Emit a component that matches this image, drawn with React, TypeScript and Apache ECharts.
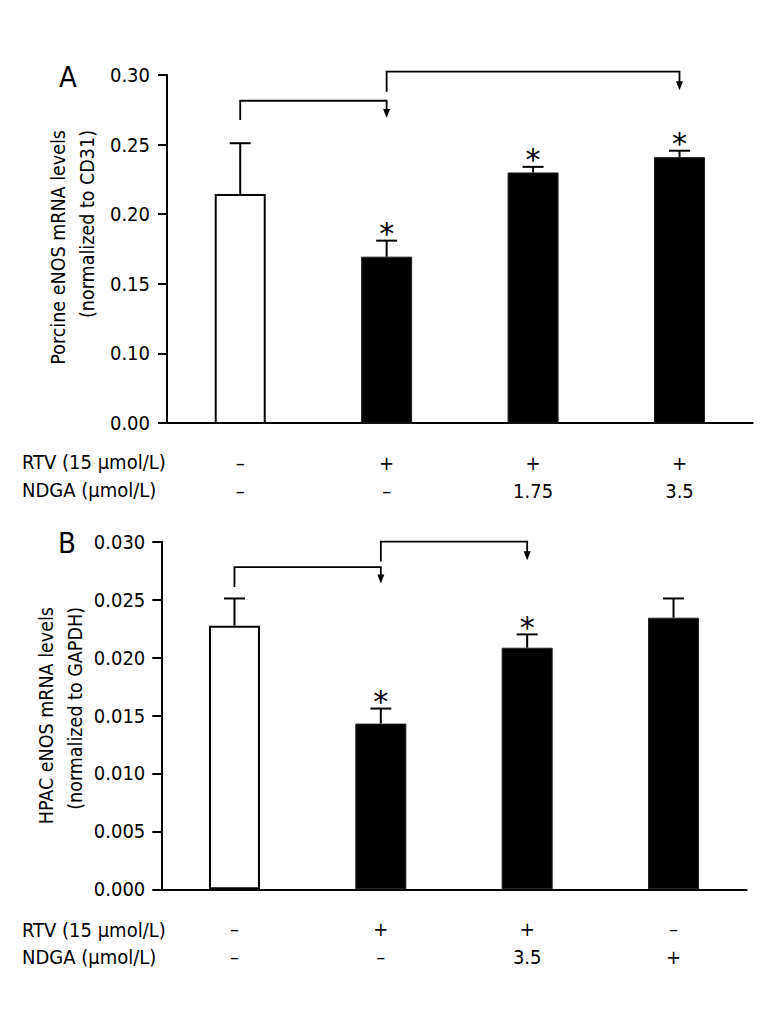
import React, { useEffect, useRef } from "react";
import * as echarts from "echarts";

const F = "'Liberation Sans Narrow', 'DejaVu Sans Condensed', 'Arial Narrow', sans-serif";

// Panel A
const groups = ["1", "2", "3", "4"];
const rtvA = ["–", "+", "+", "+"];
const ndgaA = ["–", "–", "1.75", "3.5"];
const meanA = [0.2145, 0.1695, 0.23, 0.241];
const upperA = [0.251, 0.181, 0.234, 0.2456];
const sigA = [0, 1, 1, 1];
// [fromIndex, toIndex, startValue, levelValue, arrowTipValue]
const bracketsA = [
  [0, 1, 0.2677, 0.2815, 0.2691],
  [1, 3, 0.288, 0.3024, 0.289],
];
const yTicksA = [0.05, 0.1, 0.15, 0.2, 0.25, 0.3];
const yTickLabelsA = ["0.00", "0.10", "0.15", "0.20", "0.25", "0.30"];

// Panel B
const rtvB = ["–", "+", "+", "–"];
const ndgaB = ["–", "–", "3.5", "+"];
const meanB = [0.02275, 0.0143, 0.02085, 0.02344];
const upperB = [0.0251, 0.0156, 0.022, 0.0251];
const sigB = [0, 1, 1, 0];
const bracketsB = [
  [0, 1, 0.0261, 0.0278, 0.0264],
  [1, 2, 0.0283, 0.03, 0.0284],
];

const rowTitles = ["RTV (15 μmol/L)", "NDGA (μmol/L)"];
const yTitleA = "Porcine eNOS mRNA levels\n(normalized to CD31)";
const yTitleB = "HPAC eNOS mRNA levels\n(normalized to GAPDH)";

const FS = 20;
const FS_TITLE = 19.5;

function barData(means: number[]) {
  return means.map((v, i) =>
    i === 0
      ? { value: v, itemStyle: { color: "#fff", borderColor: "#000", borderWidth: 2 } }
      : { value: v, itemStyle: { color: "#000", borderColor: "#222", borderWidth: 1 } }
  );
}

function errRender(params: any, api: any) {
  const x = api.value(0);
  const m = api.value(1);
  const u = api.value(2);
  const s = api.value(3);
  const p0 = api.coord([x, m]);
  const p1 = api.coord([x, u]);
  const half = 10.5;
  const children: any[] = [
    { type: "line", shape: { x1: p0[0], y1: p0[1], x2: p1[0], y2: p1[1] }, style: { stroke: "#000", lineWidth: 2 } },
    { type: "line", shape: { x1: p1[0] - half, y1: p1[1], x2: p1[0] + half, y2: p1[1] }, style: { stroke: "#000", lineWidth: 2 } },
  ];
  if (s) {
    children.push({
      type: "text",
      x: p1[0],
      y: p1[1] - 7,
      style: { text: "*", fill: "#000", fontSize: 30, fontFamily: "DejaVu Sans", align: "center", verticalAlign: "middle" },
    });
  }
  return { type: "group", children };
}

function bracketRender(params: any, api: any) {
  const a = api.value(0);
  const b = api.value(1);
  const s = api.value(2);
  const l = api.value(3);
  const t = api.value(4);
  const pS = api.coord([a, s]);
  const pL1 = api.coord([a, l]);
  const pL2 = api.coord([b, l]);
  const pT = api.coord([b, t]);
  return {
    type: "group",
    children: [
      {
        type: "polyline",
        shape: { points: [pS, pL1, pL2, [pT[0], pT[1] - 6]] },
        style: { stroke: "#000", lineWidth: 1.8, fill: "none" },
      },
      {
        type: "polygon",
        shape: { points: [[pT[0] - 3.5, pT[1] - 9], [pT[0] + 3.5, pT[1] - 9], [pT[0], pT[1]]] },
        style: { fill: "#000" },
      },
    ],
  };
}

export default function App() {
  const ref = useRef<HTMLDivElement>(null);
  useEffect(() => {
    document.body.style.margin = "0";
    const chart = echarts.init(ref.current!, null, { renderer: "svg" });
    const axisLine = { lineStyle: { color: "#000", width: 2 } };
    const labelStyle = { color: "#000", fontFamily: F, fontSize: FS };
    const xLabel = (rtv: string[], ndga: string[]) => ({
      ...labelStyle,
      margin: 26,
      lineHeight: 28,
      interval: 0,
      formatter: (v: string, i: number) => rtv[i] + "\n" + ndga[i],
    });
    const option: any = {
      animation: false,
      backgroundColor: "#fff",
      grid: [
        { left: 167, top: 75, width: 585.7, height: 348 },
        { left: 161.3, top: 541.7, width: 585.4, height: 347.6 },
      ],
      xAxis: [
        {
          type: "category",
          gridIndex: 0,
          data: groups,
          axisLine,
          axisTick: { length: 13, lineStyle: { color: "#000", width: 2 } },
          axisLabel: xLabel(rtvA, ndgaA),
        },
        {
          type: "category",
          gridIndex: 1,
          data: groups,
          axisLine,
          axisTick: { length: 13, lineStyle: { color: "#000", width: 2 } },
          axisLabel: xLabel(rtvB, ndgaB),
        },
      ],
      yAxis: [
        {
          type: "value",
          gridIndex: 0,
          min: yTicksA[0],
          max: yTicksA[yTicksA.length - 1],
          interval: 0.05,
          axisLine: { show: true, ...axisLine },
          axisTick: { show: true, length: 9, lineStyle: { color: "#000", width: 2 } },
          splitLine: { show: false },
          axisLabel: {
            ...labelStyle,
            margin: 17,
            formatter: (v: number) => {
              const k = yTicksA.findIndex((t) => Math.abs(t - v) < 1e-9);
              return k >= 0 ? yTickLabelsA[k] : "";
            },
          },
        },
        {
          type: "value",
          gridIndex: 1,
          min: 0,
          max: 0.03,
          interval: 0.005,
          axisLine: { show: true, ...axisLine },
          axisTick: { show: true, length: 9, lineStyle: { color: "#000", width: 2 } },
          splitLine: { show: false },
          axisLabel: { ...labelStyle, margin: 16, formatter: (v: number) => v.toFixed(3) },
        },
      ],
      series: [
        { type: "bar", xAxisIndex: 0, yAxisIndex: 0, barWidth: 51, data: barData(meanA) },
        { type: "bar", xAxisIndex: 1, yAxisIndex: 1, barWidth: 51, data: barData(meanB) },
        {
          type: "custom",
          xAxisIndex: 0,
          yAxisIndex: 0,
          renderItem: errRender,
          encode: { x: 0, y: 1 },
          data: meanA.map((m, i) => [i, m, upperA[i], sigA[i]]),
          z: 5,
        },
        {
          type: "custom",
          xAxisIndex: 1,
          yAxisIndex: 1,
          renderItem: errRender,
          encode: { x: 0, y: 1 },
          data: meanB.map((m, i) => [i, m, upperB[i], sigB[i]]),
          z: 5,
        },
        {
          type: "custom",
          xAxisIndex: 0,
          yAxisIndex: 0,
          renderItem: bracketRender,
          encode: { x: 0, y: 3 },
          data: bracketsA,
          clip: false,
          z: 5,
        },
        {
          type: "custom",
          xAxisIndex: 1,
          yAxisIndex: 1,
          renderItem: bracketRender,
          encode: { x: 0, y: 3 },
          data: bracketsB,
          clip: false,
          z: 5,
        },
      ],
      graphic: [
        { type: "text", x: 68, y: 77, style: { text: "A", fill: "#000", fontFamily: F, fontSize: 29, align: "center", verticalAlign: "middle" } },
        { type: "text", x: 67, y: 543, style: { text: "B", fill: "#000", fontFamily: F, fontSize: 29, align: "center", verticalAlign: "middle" } },
        {
          type: "text", x: 73, y: 130, rotation: Math.PI / 2,
          style: { text: yTitleA, fill: "#000", fontFamily: F, fontSize: FS_TITLE, lineHeight: 29, align: "right", verticalAlign: "middle" },
        },
        {
          type: "text", x: 61, y: 607, rotation: Math.PI / 2,
          style: { text: yTitleB, fill: "#000", fontFamily: F, fontSize: FS_TITLE, lineHeight: 29, align: "right", verticalAlign: "middle" },
        },
        { type: "text", x: 22, y: 462, style: { text: rowTitles[0], fill: "#000", fontFamily: F, fontSize: FS, verticalAlign: "middle" } },
        { type: "text", x: 22, y: 490, style: { text: rowTitles[1], fill: "#000", fontFamily: F, fontSize: FS, verticalAlign: "middle" } },
        { type: "text", x: 22, y: 930, style: { text: rowTitles[0], fill: "#000", fontFamily: F, fontSize: FS, verticalAlign: "middle" } },
        { type: "text", x: 22, y: 957, style: { text: rowTitles[1], fill: "#000", fontFamily: F, fontSize: FS, verticalAlign: "middle" } },
      ],
    };
    chart.setOption(option);
    return () => chart.dispose();
  }, []);
  return <div ref={ref} style={{ width: 771, height: 1028 }} />;
}
